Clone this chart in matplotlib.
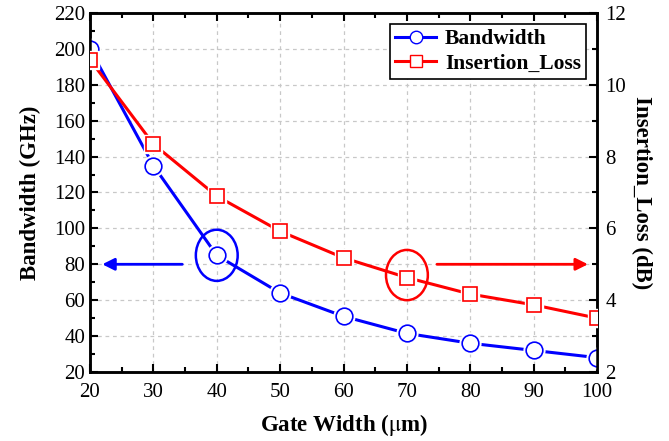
import matplotlib as mpl
mpl.use('Agg')
import matplotlib.pyplot as plt
from matplotlib.patches import Ellipse
from matplotlib.ticker import MultipleLocator

plt.rcParams['font.family'] = ['Liberation Serif', 'DejaVu Serif']
plt.rcParams['mathtext.fontset'] = 'stix'

gate_width = [20, 30, 40, 50, 60, 70, 80, 90, 100]
bandwidth = [200, 135, 85, 64, 51, 41.5, 36, 32, 28]
insertion_loss = [10.7, 8.35, 6.9, 5.92, 5.18, 4.63, 4.17, 3.87, 3.5]

fig = plt.figure(figsize=(6.69, 4.41), dpi=100)
ax = fig.add_axes([0.1345, 0.1565, 0.758, 0.814])
ax2 = ax.twinx()

blue = '#0000ff'
red = '#ff0000'

# lines with a small gap around markers (white halo)
ax.plot(gate_width, bandwidth, '-', color=blue, lw=2.2, zorder=2)
ax.plot(gate_width, bandwidth, 'o', ms=15, mfc='white', mec='white', zorder=3)
ax.plot(gate_width, bandwidth, 'o', ms=12, mfc='white', mec=blue, mew=1.2, zorder=4)
ax2.plot(gate_width, insertion_loss, '-', color=red, lw=2.2, zorder=2)
ax2.plot(gate_width, insertion_loss, 's', ms=13, mfc='white', mec='white', zorder=3)
ax2.plot(gate_width, insertion_loss, 's', ms=10.5, mfc='white', mec=red, mew=1.2, zorder=4)

ax.set_xlim(20, 100)
ax.set_ylim(20, 220)
ax2.set_ylim(2, 12)
ax.xaxis.set_major_locator(MultipleLocator(10))
ax.xaxis.set_minor_locator(MultipleLocator(5))
ax.yaxis.set_major_locator(MultipleLocator(20))
ax.yaxis.set_minor_locator(MultipleLocator(10))
ax2.yaxis.set_major_locator(MultipleLocator(2))
ax2.yaxis.set_minor_locator(MultipleLocator(1))

ax.grid(True, which='major', ls=(0, (3, 3)), color='#c8c8c8', lw=0.9)
ax.tick_params(which='both', direction='in', top=True, labelsize=15, width=1.5)
ax.tick_params(axis='x', pad=8)
ax.tick_params(which='major', length=6)
ax.tick_params(which='minor', length=3.5)
ax2.tick_params(which='both', direction='in', labelsize=15, width=1.5, pad=6)
ax2.tick_params(which='major', length=6)
ax2.tick_params(which='minor', length=3.5)
for a in (ax, ax2):
    for s in a.spines.values():
        s.set_linewidth(1.8)

ax.set_xlabel(r'Gate Width ($\mathrm{\mu}$m)', fontsize=16.5, fontweight='bold', labelpad=7)
ax.set_ylabel('Bandwidth (GHz)', fontsize=16.5, fontweight='bold', labelpad=9)
ax2.set_ylabel('Insertion_Loss (dB)', fontsize=16.5, fontweight='bold', rotation=270, labelpad=19)

# annotation ellipses and arrows
ax.add_patch(Ellipse((40, 85), 6.6, 28.5, fill=False, ec=blue, lw=1.8, zorder=5))
ax.add_patch(Ellipse((70, 74), 6.6, 28, fill=False, ec=red, lw=1.8, zorder=5))
ax.annotate('', xy=(21.5, 80), xytext=(35, 80),
            arrowprops=dict(arrowstyle='-|>', color=blue, lw=2, mutation_scale=18))
ax.annotate('', xy=(99, 80), xytext=(74.3, 80),
            arrowprops=dict(arrowstyle='-|>', color=red, lw=2, mutation_scale=18))

h1, = ax.plot([], [], '-o', color=blue, mfc='white', mec=blue, lw=2.2, ms=9)
h2, = ax.plot([], [], '-s', color=red, mfc='white', mec=red, lw=2.2, ms=8)
leg = ax.legend([h1, h2], ['Bandwidth', 'Insertion_Loss'], loc='upper right',
                prop={'weight': 'bold', 'size': 15.5}, fancybox=False, framealpha=1,
                edgecolor='black', handlelength=1.9, borderpad=0.25, labelspacing=0.2,
                handletextpad=0.4, borderaxespad=0.5)
leg.get_frame().set_linewidth(1.2)
leg.set_zorder(10)

fig.savefig('out.png', dpi=100)
